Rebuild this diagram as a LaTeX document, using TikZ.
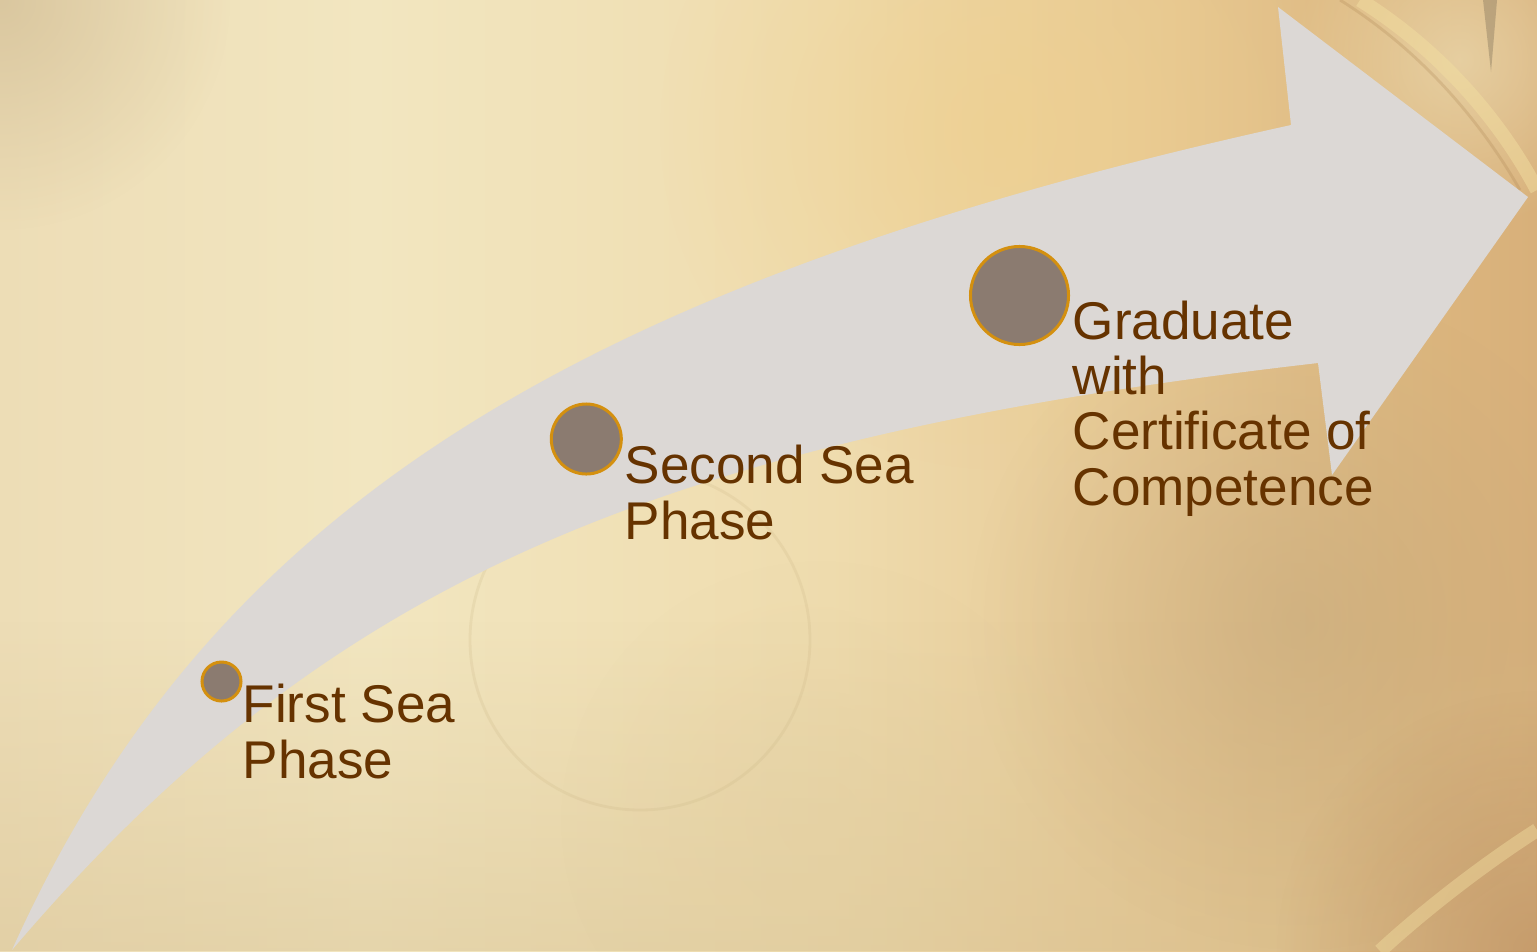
\documentclass[tikz,border=0pt]{standalone}
\usepackage{fontspec}
\setmainfont{Liberation Sans}
\usetikzlibrary{fadings}
\definecolor{arrowgray}{HTML}{DCD8D5}
\definecolor{dotfill}{HTML}{8B7B70}
\definecolor{dotring}{HTML}{D4900F}
\definecolor{labelbrown}{HTML}{663300}
\definecolor{bgA}{HTML}{EDDDB6}
\definecolor{bgB}{HTML}{F2E6C0}
\definecolor{bgC}{HTML}{EFDCAE}
\definecolor{bgD}{HTML}{E6C792}
\definecolor{bgE}{HTML}{DDB880}
\definecolor{bgF}{HTML}{D8B07A}
\definecolor{bgBottom}{RGB}{214,192,146}
\definecolor{blobGold}{RGB}{240,208,140}
\definecolor{blobTan}{RGB}{196,168,124}
\definecolor{blobRed}{RGB}{182,130,84}
\definecolor{blobCorner}{RGB}{210,190,150}
\definecolor{blobLight}{RGB}{238,224,184}
\definecolor{blobLow}{RGB}{226,206,160}
\definecolor{ringLight}{RGB}{242,222,160}
\definecolor{ringDark}{RGB}{170,130,80}
\definecolor{ringFaint}{RGB}{200,178,130}
\definecolor{needle}{RGB}{130,115,90}
\pgfdeclarehorizontalshading{bgshade}{100bp}{color(0bp)=(bgA); color(25bp)=(bgA); color(37bp)=(bgB); color(52bp)=(bgC); color(63bp)=(bgD); color(70bp)=(bgE); color(75bp)=(bgF); color(100bp)=(bgF)}
\tikzfading[name=softblob, inner color=transparent!0, outer color=transparent!100]
\tikzfading[name=upfade, top color=transparent!100, bottom color=transparent!0]
\tikzset{
  dot/.style={circle, draw=dotring, fill=dotfill, line width=0.85pt, inner sep=0pt},
  lbl/.style={anchor=base west, inner sep=0pt, align=left, text=labelbrown,
    font=\fontsize{15.1pt}{15.65pt}\selectfont},
  blob/.style={fill=#1, path fading=softblob}
}
\begin{document}
\begin{tikzpicture}[x=0.01cm, y=-0.01cm]
\useasboundingbox (0,0) rectangle (1537,951);
\begin{scope}
\clip (0,0) rectangle (1537,951);
% background
\shade[shading=bgshade] (0,0) rectangle (1537,951);
\fill[bgBottom, opacity=0.45, path fading=upfade] (0,620) rectangle (1537,951);
\fill[blob=blobGold, opacity=0.6] (1000,130) circle (340);
\fill[blob=blobTan, opacity=0.55] (1300,620) circle (330);
\fill[blob=blobRed, opacity=0.5] (1537,951) circle (260);
\fill[blob=blobCorner, opacity=0.7] (0,0) circle (230);
\fill[blob=blobLight, opacity=0.6] (1460,60) circle (170);
\fill[blob=blobLow, opacity=0.4] (820,820) circle (260);
% faint compass ring traces
\draw[ringLight, line width=4pt, opacity=0.5] (1360,0) .. controls (1440,50) and (1500,120) .. (1537,190);
\draw[ringDark, line width=0.8pt, opacity=0.25] (1340,0) .. controls (1420,50) and (1480,120) .. (1520,190);
\draw[ringLight, line width=4pt, opacity=0.45] (1380,951) .. controls (1430,905) and (1490,860) .. (1537,830);
\draw[ringFaint, line width=0.8pt, opacity=0.2] (640,640) circle (170);
\fill[needle, opacity=0.4] (1483,0) -- (1497,0) -- (1491,72) -- cycle;
\end{scope}
% arrow
\fill[arrowgray] (12,950) .. controls (207,516) and (565,285) .. (1291,125)
  -- (1278,7) -- (1528,197) -- (1332,475) -- (1318,363)
  .. controls (647.5,440) and (321,587) .. (12,950) -- cycle;
% dots
\node[dot, minimum size=0.39cm] (d1) at (221.5,681.5) {};
\node[dot, minimum size=0.70cm] (d2) at (586.3,439) {};
\node[dot, minimum size=0.98cm] (d3) at (1019.5,295.5) {};
% labels (anchor is the baseline of the last line)
\node[lbl] (t1) at (242,778) {First Sea\\Phase};
\node[lbl] (t2) at (624,539) {Second Sea\\Phase};
\node[lbl] (t3) at (1072,505) {Graduate\\with\\Certificate of\\Competence};
\end{tikzpicture}
\end{document}
